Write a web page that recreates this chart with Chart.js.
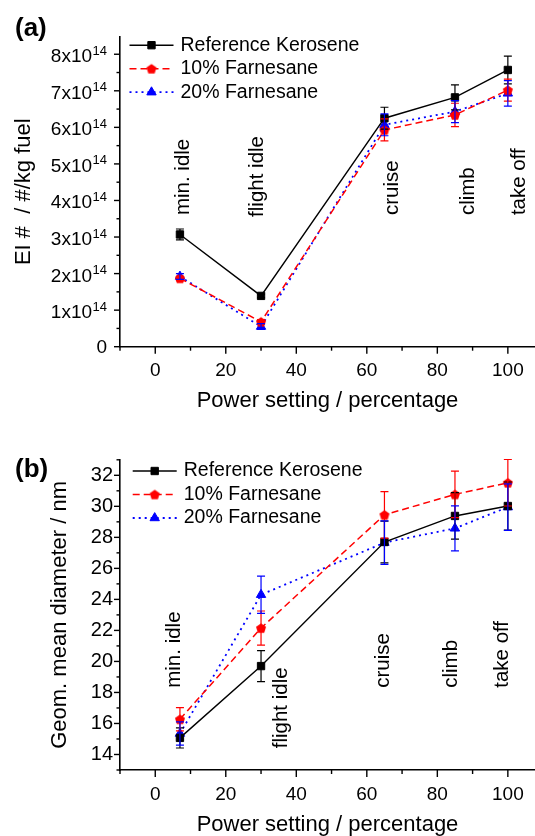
<!DOCTYPE html>
<html>
<head>
<meta charset="utf-8">
<script src="https://cdn.jsdelivr.net/npm/chart.js@4.4.1/dist/chart.umd.min.js"></script>
<style>
  html, body { margin: 0; padding: 0; background: #fff; }
  #wrap { position: relative; width: 535px; height: 836px; overflow: hidden; }
  canvas { position: absolute; left: 0; }
  #chartA { top: 0; }
  #chartB { top: 415px; }
</style>
</head>
<body>
<div id="wrap">
  <canvas id="chartA" width="535" height="415"></canvas>
  <canvas id="chartB" width="535" height="421"></canvas>
</div>
<script>
// power settings, shared by both panels
const powerSetting = [7, 30, 65, 85, 100];
const seriesNames = ['Reference Kerosene', '10% Farnesane', '20% Farnesane'];
const phaseNames = ['min. idle', 'flight idle', 'cruise', 'climb', 'take off'];

// (a) EI number, #/kg fuel
const eiKerosene = [3.07e14, 1.39e14, 6.25e14, 6.82e14, 7.57e14];
const eiKeroseneErr = [0.15e14, 0.05e14, 0.30e14, 0.34e14, 0.38e14];
const eiF10 = [1.87e14, 0.68e14, 5.93e14, 6.34e14, 7.02e14];
const eiF10Err = [0.06e14, 0.06e14, 0.30e14, 0.32e14, 0.30e14];
const eiF20 = [1.92e14, 0.55e14, 6.07e14, 6.43e14, 6.93e14];
const eiF20Err = [0.08e14, 0.08e14, 0.30e14, 0.30e14, 0.35e14];

// (b) geometric mean diameter, nm
const gmdKerosene = [15.07, 19.70, 27.70, 29.38, 30.02];
const gmdKeroseneErr = [0.65, 1.00, 1.35, 1.50, 1.55];
const gmdF10 = [16.27, 22.15, 29.45, 30.77, 31.52];
const gmdF10Err = [0.75, 1.10, 1.50, 1.50, 1.50];
const gmdF20 = [15.35, 24.30, 27.66, 28.58, 29.95];
const gmdF20Err = [0.75, 1.20, 1.40, 1.45, 1.50];

const FONT = "'Liberation Sans', Arial, sans-serif";
Chart.defaults.font.family = FONT;
Chart.defaults.color = '#000';

// red pentagon marker
function pentagon(color, r) {
  const c = document.createElement('canvas');
  const s = 12;
  c.width = s; c.height = s;
  const g = c.getContext('2d');
  g.fillStyle = color;
  g.beginPath();
  for (let i = 0; i < 5; i++) {
    const a = -Math.PI / 2 + i * 2 * Math.PI / 5;
    g.lineTo(s / 2 + r * Math.cos(a), s / 2 + 0.5 + r * Math.sin(a));
  }
  g.closePath();
  g.fill();
  return c;
}

function makeDatasets(vals, errs) {
  const styles = [
    { color: '#000000', dash: [], point: 'rect', radius: 5.2, width: 1.4 },
    { color: '#ff0000', dash: [7, 4], point: pentagon('#ff0000', 5.3), radius: 5.5, width: 1.5 },
    { color: '#0000ff', dash: [2, 4], point: 'triangle', radius: 5.4, width: 1.8 }
  ];
  return vals.map((v, i) => ({
    label: seriesNames[i],
    data: powerSetting.map((x, j) => ({ x: x, y: v[j] })),
    errors: errs[i],
    borderColor: styles[i].color,
    backgroundColor: styles[i].color,
    pointBackgroundColor: styles[i].color,
    pointBorderColor: styles[i].color,
    pointBorderWidth: 1,
    pointStyle: styles[i].point,
    pointRadius: styles[i].radius,
    borderWidth: styles[i].width,
    borderDash: styles[i].dash,
    tension: 0,
    fill: false,
    clip: false
  }));
}

// error bars, minor/major ticks, inside legend, phase labels, panel letter
const decorations = {
  id: 'decorations',
  beforeDatasetsDraw(chart, args, opts) {
    const { ctx, scales: { x, y } } = chart;
    ctx.save();
    ctx.font = '20.5px ' + FONT;
    ctx.fillStyle = '#000';
    ctx.textBaseline = 'middle';
    ctx.textAlign = 'left';
    phaseNames.forEach((t, i) => {
      ctx.save();
      ctx.translate(x.getPixelForValue(opts.phaseX[i]), y.getPixelForValue(opts.phaseY[i]));
      ctx.rotate(-Math.PI / 2);
      ctx.fillText(t, 0, 0);
      ctx.restore();
    });
    ctx.restore();
  },
  afterDatasetsDraw(chart) {
    const { ctx, scales: { y } } = chart;
    chart.data.datasets.forEach((ds, i) => {
      const meta = chart.getDatasetMeta(i);
      ctx.save();
      ctx.setLineDash([]);
      ctx.strokeStyle = ds.borderColor;
      ctx.lineWidth = 1.2;
      meta.data.forEach((pt, j) => {
        const v = ds.data[j].y, e = ds.errors[j];
        const top = y.getPixelForValue(v + e), bot = y.getPixelForValue(v - e);
        ctx.beginPath();
        ctx.moveTo(pt.x, top); ctx.lineTo(pt.x, bot);
        ctx.moveTo(pt.x - 4, top); ctx.lineTo(pt.x + 4, top);
        ctx.moveTo(pt.x - 4, bot); ctx.lineTo(pt.x + 4, bot);
        ctx.stroke();
      });
      ctx.restore();
    });
  },
  afterDraw(chart, args, opts) {
    const { ctx, chartArea, scales: { x, y } } = chart;
    ctx.save();
    ctx.strokeStyle = '#000';
    ctx.lineWidth = 1.4;
    // x ticks, pointing down: minor every 10, major every 20
    for (let i = 0; i <= 11; i++) {
      const v = -10 + i * 10;
      const p = x.getPixelForValue(v);
      ctx.beginPath(); ctx.moveTo(p, chartArea.bottom); ctx.lineTo(p, chartArea.bottom + (i % 2 === 1 ? 7 : 4)); ctx.stroke();
    }
    // y ticks, pointing left
    const n = Math.round((opts.yTo - opts.yFrom) / opts.yMinor);
    for (let i = 0; i <= n; i++) {
      const v = opts.yFrom + i * opts.yMinor;
      const major = Math.abs(v / opts.yMajor - Math.round(v / opts.yMajor)) < 1e-6;
      const p = y.getPixelForValue(v);
      ctx.beginPath(); ctx.moveTo(chartArea.left, p); ctx.lineTo(chartArea.left - (major ? 6 : 3.5), p); ctx.stroke();
      if (opts.sciLabels && major) {
        ctx.fillStyle = '#000';
        ctx.textAlign = 'right';
        ctx.textBaseline = 'alphabetic';
        const m = Math.round(v / 1e14);
        if (m === 0) {
          ctx.font = '19px ' + FONT;
          ctx.fillText('0', 107, p + 6.5);
        } else {
          ctx.font = '13px ' + FONT;
          const supW = ctx.measureText('14').width;
          ctx.fillText('14', 107, p + 0.5);
          ctx.font = '19px ' + FONT;
          ctx.fillText(m + 'x10', 107 - supW - 0.5, p + 8);
        }
      }
    }
    // legend inside the plot
    chart.data.datasets.forEach((ds, i) => {
      const ly = chartArea.top + opts.legendTop + i * 23.5;
      const x0 = chartArea.left + opts.legendLeft;
      ctx.strokeStyle = ds.borderColor;
      ctx.lineWidth = ds.borderWidth;
      ctx.setLineDash(ds.borderDash);
      ctx.beginPath(); ctx.moveTo(x0, ly); ctx.lineTo(x0 + 44, ly); ctx.stroke();
      ctx.setLineDash([]);
      ctx.fillStyle = ds.pointBackgroundColor;
      ctx.lineWidth = 1;
      Chart.helpers.drawPoint(ctx, { pointStyle: ds.pointStyle, radius: ds.pointRadius, borderWidth: 1, rotation: 0 }, x0 + 22, ly);
      ctx.fillStyle = '#000';
      ctx.font = '19.5px ' + FONT;
      ctx.textAlign = 'left';
      ctx.textBaseline = 'middle';
      ctx.fillText(ds.label, x0 + 51, ly);
    });
    // panel letter
    ctx.font = 'bold 26px ' + FONT;
    ctx.textAlign = 'left';
    ctx.textBaseline = 'middle';
    ctx.fillText(opts.panel, 15, opts.panelY);
    ctx.restore();
  }
};

function makeOptions(cfg) {
  return {
    responsive: false,
    animation: false,
    devicePixelRatio: 1,
    events: [],
    layout: { autoPadding: false, padding: { top: cfg.top, left: 0, right: 0, bottom: 0 } },
    plugins: {
      legend: { display: false },
      tooltip: { enabled: false },
      decorations: cfg.deco
    },
    scales: {
      x: {
        type: 'linear',
        min: -10,
        max: 107.7,
        grid: { display: false, drawTicks: false },
        border: { display: true, color: '#000', width: 1.6 },
        ticks: {
          stepSize: 10,
          includeBounds: false,
          autoSkip: false,
          maxRotation: 0,
          padding: 0,
          font: { size: 19, lineHeight: 2.57 },
          callback: v => (v >= 0 && v <= 100 && v % 20 === 0) ? v : ''
        },
        title: {
          display: true,
          text: 'Power setting / percentage',
          font: { size: 22, lineHeight: 1 },
          padding: { top: 0, bottom: cfg.xTitlePad }
        },
        afterFit: s => {
          s.height = cfg.xHeight;
          s.paddingLeft = 0;
          s.paddingRight = 0;
        }
      },
      y: {
        min: cfg.yMin,
        max: cfg.yMax,
        grid: { display: false, drawTicks: false },
        border: { display: true, color: '#000', width: 1.6 },
        ticks: {
          display: cfg.yTicksShown,
          stepSize: cfg.yStep,
          includeBounds: false,
          autoSkip: false,
          padding: 7,
          font: { size: 20 },
          callback: cfg.yLabel
        },
        title: {
          display: true,
          text: cfg.yTitle,
          font: { size: 22, lineHeight: 1 },
          padding: { top: cfg.yTitlePad, bottom: 0 }
        },
        afterFit: s => { s.width = 120; }
      }
    }
  };
}

new Chart(document.getElementById('chartA'), {
  type: 'line',
  data: { datasets: makeDatasets([eiKerosene, eiF10, eiF20], [eiKeroseneErr, eiF10Err, eiF20Err]) },
  options: makeOptions({
    top: 36.7, xHeight: 68.3, xTitlePad: 3,
    yMin: 0, yMax: 8.48e14, yStep: 1e14, yTicksShown: false,
    yLabel: () => '',
    yTitle: 'EI #  / #/kg fuel', yTitlePad: 12.5,
    deco: {
      panel: '(a)', panelY: 29, yFrom: 0, yTo: 8e14, yMinor: 0.5e14, yMajor: 1e14, sciLabels: true,
      legendTop: 8.5, legendLeft: 9.5,
      phaseX: [8.0, 29.0, 67.3, 88.9, 103.3],
      phaseY: [3.6e14, 3.55e14, 3.6e14, 3.6e14, 3.6e14]
    }
  }),
  plugins: [decorations]
});

new Chart(document.getElementById('chartB'), {
  type: 'line',
  data: { datasets: makeDatasets([gmdKerosene, gmdF10, gmdF20], [gmdKeroseneErr, gmdF10Err, gmdF20Err]) },
  options: makeOptions({
    top: 44.8, xHeight: 66, xTitlePad: 0,
    yMin: 13, yMax: 33, yStep: 1, yTicksShown: true,
    yLabel: v => (v % 2 === 0 && v >= 14 && v <= 32) ? v : '',
    yTitle: 'Geom. mean diameter / nm', yTitlePad: 49,
    deco: {
      panel: '(b)', panelY: 54.5, yFrom: 13, yTo: 33, yMinor: 1, yMajor: 2, sciLabels: false,
      legendTop: 11.2, legendLeft: 12.7,
      phaseX: [5.5, 35.8, 64.7, 84.0, 98.5],
      phaseY: [18.3, 14.4, 18.3, 18.3, 18.3]
    }
  }),
  plugins: [decorations]
});
</script>
</body>
</html>
